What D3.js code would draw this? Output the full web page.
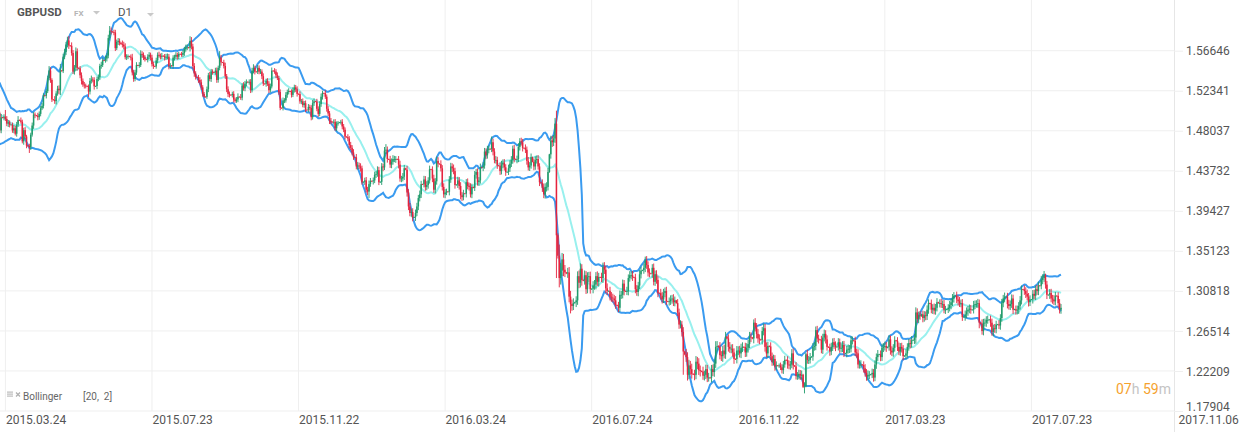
<!DOCTYPE html>
<html><head><meta charset="utf-8">
<script src="https://cdn.jsdelivr.net/npm/d3@7"></script>
<style>
html,body{margin:0;padding:0;background:#fff;}
svg{display:block;font-family:Roboto,"Noto Sans",Arial,sans-serif;}
</style></head><body>
<svg id="chart" width="1243" height="432"></svg>
<script>
// ---------------- DATA ----------------
const symbol = "GBPUSD", market = "FX", period = "D1";
const countdown = ["07", "h", " 59", "m"];
const indicatorName = "Bollinger", indicatorParams = "[20,  2]";
const firstDate = "2015-02-22";               // first candle (a Sunday session)
const skipDates = ["2015.12.25", "2016.01.01"]; // no session
const firstOpen = 5140;                        // pips above 1.0000
// daily closes, pips above 1.0000, one row per week (Sun..Fri)
const closes = [
5150,5180,5210,5240,5200,5190, 5188,5160,5120,5100,5080,4960, 4962,4980,4960,4870,4890,4720,
4725,4760,4820,4990,4808,4948, 4945,4955,4930,4880,4895,4868, 4870,4808,4830,4772,4870,4920,
4915,4900,4690,4810,4742,4645, 4640,4628,4762,4860,4978,4970, 4965,4950,4985,5045,5072,5185,
5180,5230,5370,5452,5350,5140, 5135,5122,5205,5255,5240,5452, 5445,5600,5650,5730,5775,5720,
5718,5640,5440,5482,5658,5480, 5475,5400,5340,5300,5290,5285, 5282,5225,5340,5355,5350,5282,
5285,5360,5380,5500,5510,5562, 5560,5580,5612,5800,5880,5870, 5865,5860,5692,5760,5770,5750,
5735,5730,5710,5595,5600,5605, 5600,5590,5430,5360,5430,5510, 5505,5510,5630,5620,5595,5572,
5570,5600,5620,5590,5520,5500, 5495,5560,5620,5610,5600,5610, 5605,5590,5600,5600,5500,5505,
5500,5590,5600,5620,5600,5630, 5628,5620,5640,5680,5700,5700, 5695,5770,5710,5500,5420,5380,
5378,5350,5325,5270,5200,5170, 5168,5250,5400,5360,5440,5435, 5430,5450,5350,5480,5590,5540,
5538,5500,5390,5250,5200,5190, 5188,5200,5140,5125,5140,5170, 5168,5160,5290,5260,5310,5330,
5328,5330,5240,5450,5480,5440, 5438,5480,5440,5440,5390,5310, 5308,5340,5310,5240,5280,5450,
5448,5440,5400,5370,5220,5050, 5048,5130,5130,5190,5220,5230, 5225,5190,5240,5270,5250,5200,
5198,5120,5120,5080,5100,5030, 5028,5060,5050,4950,5100,5120, 5118,5040,4985,5090,5170,5210,
5208,5170,5040,4990,4910,4900, 4898,4900,4830,4880,4890, 4895,4900,4850,4815,4740,
4735,4720,4650,4620,4570,4520, 4518,4420,4430,4420,4400,4250, 4255,4270,4170,4150,4230,4265,
4262,4270,4330,4340,4380,4250, 4255,4420,4410,4590,4600,4500, 4495,4440,4470,4500,4500,4500,
4498,4440,4290,4290,4310,4400, 4385,4140,3990,3920,3930,3870, 3875,3920,3990,4080,4120,4230,
4228,4280,4200,4220,4270,4390, 4385,4290,4170,4260,4480,4450, 4445,4400,4200,4120,4140,4150,
4148,4280,4420,4400,4370,4220, 4225,4270,4210,4110,4090,4130, 4128,4250,4210,4200,4120,4200,
4190,4330,4360,4250,4270,4410, 4408,4430,4580,4540,4600,4610, 4608,4680,4580,4490,4490,4430,
4428,4370,4440,4460,4410,4360, 4362,4400,4450,4490,4610,4500, 4495,4500,4630,4690,4680,4620,
4618,4600,4480,4410,4430,4520, 4470,4420,4490,4500,4420,4250, 4240,4190,4120,4200,4200,4360,
4550,4700,4680,4720,4880,3680, 3460,3220,3300,3420,3310,3280, 3270,3280,3020,2940,2920,2950,
2960,2980,3240,3170,3320,3200, 3195,3250,3100,3230,3240,3100, 3105,3140,3150,3240,3180,3230,
3228,3220,3340,3310,3110,3080, 3082,3020,3010,3000,2980,2930, 2925,2900,3040,3040,3160,3080,
3078,3080,3220,3250,3250,3230, 3225,3100,3070,3140,3260,3300, 3305,3330,3410,3360,3280,3270,
3268,3330,3180,3260,3200,3060, 3058,3030,2990,3060,3080,2970, 2968,2970,2990,3000,2960,2980,
2950,2850,2720,2720,2640,2430, 2400,2370,2180,2280,2240,2190, 2185,2180,2320,2300,2230,2220,
2215,2170,2180,2240,2150,2150, 2148,2240,2210,2300,2480,2490, 2480,2390,2380,2440,2400,2590,
2570,2480,2460,2460,2420,2350, 2348,2440,2440,2410,2470,2480, 2478,2420,2470,2510,2590,2580,
2570,2740,2690,2620,2570,2560, 2555,2650,2680,2480,2410,2490, 2485,2380,2320,2350,2270,2280,
2278,2280,2260,2230,2290,2340, 2338,2290,2280,2290,2410,2280, 2270,2170,2170,2190,2170,2180,
2050,2060,2400,2340,2340,2370, 2375,2480,2490,2660,2570,2560, 2555,2450,2580,2620,2560,2480,
2475,2430,2480,2530,2500,2480, 2482,2530,2460,2470,2500,2410, 2412,2450,2460,2460,2550,2550,
2545,2420,2410,2290,2290,2290, 2285,2250,2200,2160,2180,2180, 2185,2200,2150,2290,2370,2400,
2400,2370,2470,2480,2490,2470, 2480,2560,2440,2420,2470,2550, 2545,2480,2430,2480,2460,2380,
2385,2410,2480,2520,2510,2550, 2555,2580,2850,2780,2820,2810, 2830,2790,2820,2810,2880,2950,
2945,2880,2900,2870,2900,2960, 2950,2950,2940,2940,2880,2880, 2885,2900,2930,2960,3000,3030,
3030,2990,2970,2950,2950,2800, 2805,2830,2860,2880,2890,2880, 2880,2930,2940,2940,2950,2740,
2730,2650,2740,2740,2770,2770, 2775,2740,2640,2680,2670,2720, 2722,2710,2790,2950,3000,3020,
3020,2940,2920,2940,3000,2880, 2885,2870,2880,2920,2980,3100, 3098,3080,3050,3020,2960,2990,
2990,3050,3030,3100,3080,3140, 3138,3200,3220,3250,3150,3040, 3040,3060,3000,2990,2970,3030,
3028,2950,2880,2900
];
// high above max(open,close), pips
const wickHi = [
6,31,24,37,42,19, 5,27,33,21,26,18, 4,36,29,22,47,23,
7,33,24,120,19,36, 4,26,72,31,24,19, 5,22,36,27,29,41,
4,31,23,26,33,18, 6,24,21,32,26,22, 4,32,27,24,31,22,
5,21,26,47,32,18, 4,41,24,32,36,71, 6,32,34,29,40,46,
5,36,31,28,42,31, 4,24,31,26,28,21, 5,19,31,42,24,29,
4,26,29,24,36,27, 5,29,26,36,50,34, 4,26,29,24,31,26,
6,39,31,34,26,19, 5,24,41,26,29,31, 4,31,39,29,26,21,
5,26,29,24,31,26, 4,29,26,34,24,31, 5,24,31,34,29,26,
5,26,21,29,24,21, 4,24,31,26,29,34, 5,50,41,29,31,24,
4,26,29,31,24,21, 4,29,26,36,29,24, 5,31,34,24,70,29,
4,29,36,24,31,26, 5,24,29,21,26,36, 4,31,24,36,29,26,
5,26,29,31,39,24, 4,31,26,29,24,31, 5,24,29,26,31,34,
4,29,26,31,24,29, 5,31,24,29,26,31, 4,24,31,29,26,31,
5,29,26,31,24,29, 4,31,24,29,36,31, 5,29,26,31,34,24,
4,31,24,29,26,31, 5,26,29,24,19, 4,21,29,26,24,
5,31,26,34,29,36, 4,36,39,31,34,29, 5,29,36,31,39,31,
4,31,34,29,41,36, 5,36,31,39,60,34, 4,39,36,41,34,31,
5,34,41,29,39,36, 6,41,36,39,34,41, 5,36,39,34,41,36,
4,39,36,41,34,39, 5,36,41,34,46,39, 4,41,34,39,36,31,
5,36,39,34,41,36, 4,39,36,41,34,39, 5,34,41,36,39,34,
4,41,34,39,36,41, 5,36,39,34,41,36, 4,62,39,36,41,34,
5,34,41,36,39,34, 4,39,36,41,34,41, 5,36,41,34,39,36,
4,39,34,41,36,39, 5,34,39,36,41,34, 4,41,46,39,50,44,
6,50,46,39,60,140, 20,120,80,70,60,50, 6,50,58,62,48,52,
5,44,52,61,58,49, 5,51,44,52,46,49, 5,46,49,44,52,46,
5,49,46,51,44,52, 5,44,49,42,39,46, 5,39,46,41,44,39,
5,46,39,44,41,46, 5,41,44,39,46,41, 5,44,41,46,39,44,
5,39,46,41,44,39, 5,46,41,44,39,46, 5,41,44,39,46,41,
5,44,41,46,39,52, 8,58,52,61,49,59, 6,49,61,52,58,49,
6,52,44,49,46,51, 6,46,49,44,61,52, 6,51,44,49,62,51,
6,44,51,46,49,44, 6,49,46,51,44,49, 6,46,49,44,51,46,
6,35,49,46,51,44, 6,44,51,46,49,44, 6,44,39,46,41,44,
4,21,31,34,39,44, 5,41,44,39,46,51, 5,46,39,44,41,46,
10,39,15,46,41,44, 5,41,44,39,46,41, 5,44,41,46,39,44,
5,39,44,41,46,39, 5,44,39,46,41,44, 5,41,46,39,44,41,
5,44,41,44,39,46, 5,39,44,41,46,39, 5,46,41,44,39,46,
5,41,44,39,46,41, 5,44,41,46,39,44, 5,39,46,41,44,39,
5,46,39,44,41,46, 5,41,55,44,39,46, 8,39,44,41,46,41,
5,44,39,46,41,44, 5,41,46,39,44,41, 5,39,44,41,48,39,
5,44,41,46,39,44, 5,41,44,39,46,41, 5,44,39,41,46,39,
6,46,41,44,39,46, 5,41,44,39,46,41, 5,44,41,46,39,44,
5,41,46,39,44,41, 5,39,44,41,46,39, 5,44,41,46,39,44,
5,41,44,39,46,41, 5,44,41,46,17,39, 5,41,44,39,46,41,
5,39,44,41
];
// low below min(open,close), pips
const wickLo = [
7,22,28,26,33,24, 6,31,24,36,22,34, 9,28,41,31,24,21,
5,42,18,29,27,31, 6,29,21,27,36,28, 4,26,31,19,32,24,
5,19,22,37,24,29, 5,63,29,21,36,31, 6,34,29,26,19,28,
6,29,21,24,31,27, 5,29,36,24,44,52, 5,21,26,31,29,36,
6,29,26,32,34,29, 5,31,39,24,32,26, 4,57,31,28,26,36,
5,34,24,31,29,21, 6,24,31,29,26,31, 5,29,31,21,34,29,
5,31,29,24,31,26, 6,29,31,30,24,26, 5,24,21,34,31,24,
4,31,24,29,26,31, 5,24,31,21,29,24, 4,31,24,29,36,31,
4,29,31,24,31,26, 5,21,24,31,26,29, 4,39,31,29,36,26,
5,31,24,26,29,10, 5,21,31,24,31,29, 4,24,31,29,26,36,
5,26,29,31,34,29, 4,26,31,20,21,29, 5,24,29,26,31,29,
4,29,31,24,29,31, 5,24,29,26,31,24, 4,31,24,29,26,21,
5,24,31,21,29,25, 4,26,29,24,31,26, 5,29,24,26,31,29,
4,26,31,24,29,26, 5,24,29,34,26,29, 4,26,31,24,29,31,
5,24,31,29,34,26, 4,29,26,31,21, 5,24,31,26,29,
4,29,36,24,31,29, 5,31,34,29,36,26, 4,34,31,39,70,29,
5,36,29,34,31,31, 4,34,41,29,36,39, 5,36,39,31,34,41,
4,41,34,39,31,36, 5,44,39,36,41,40, 4,41,34,39,36,39,
5,34,41,36,39,34, 4,39,34,41,36,39, 5,34,39,36,41,29,
4,39,36,41,34,39, 5,36,39,44,41,34, 4,41,36,39,34,41,
5,34,41,36,39,34, 4,39,34,41,36,39, 5,34,41,36,39,36,
4,41,36,39,34,41, 5,34,39,36,41,36, 4,41,34,39,36,39,
5,36,41,34,39,34, 6,41,36,39,34,41, 5,44,41,46,50,39,
8,46,50,41,46,460, 30,100,70,60,70,50, 8,48,61,100,52,44,
6,52,48,59,51,62, 6,46,51,44,52,47, 6,49,46,52,44,51,
6,44,52,46,51,44, 6,41,44,39,46,41, 6,46,41,44,39,46,
6,41,46,39,44,41, 6,44,41,46,39,44, 6,39,46,41,44,41,
6,46,39,44,41,46, 6,41,44,39,46,39, 6,44,39,46,41,44,
6,39,46,41,49,250, 10,51,62,48,59,51, 8,59,48,61,52,58,
8,44,51,46,49,44, 8,49,44,52,46,49, 8,44,52,61,44,49,
8,51,44,49,46,52, 8,46,49,44,51,46, 8,49,46,51,44,49,
8,52,44,49,46,51, 8,49,46,51,44,49, 8,41,44,39,46,41,
5,24,29,36,41,34, 6,44,41,46,39,44, 6,41,44,39,46,41,
12,70,15,41,44,39, 6,44,41,46,39,44, 6,39,46,41,44,41,
6,46,39,44,41,46, 6,41,44,39,46,39, 6,44,41,46,39,44,
6,39,46,41,44,41, 6,46,39,44,41,46, 6,41,44,39,46,41,
6,44,41,46,39,44, 6,41,44,39,46,41, 6,44,39,46,41,44,
6,39,44,41,46,39, 6,44,65,41,46,39, 6,46,39,44,41,44,
6,39,46,41,44,39, 6,46,41,44,39,46, 6,41,39,46,41,44,
6,39,46,41,44,41, 6,44,41,46,39,44, 6,41,44,39,41,60,
8,39,46,41,44,41, 6,44,41,46,39,44, 6,39,46,41,44,41,
6,46,39,44,41,46, 6,44,41,46,39,44, 6,41,44,39,46,41,
6,44,39,46,41,44, 6,39,46,41,44,46, 6,44,41,46,39,44,
6,46,41,44
];
const yTickLabels = ["1.56646","1.52341","1.48037","1.43732","1.39427","1.35123","1.30818","1.26514","1.22209","1.17904"];
const xTickLabels = ["2015.03.24","2015.07.23","2015.11.22","2016.03.24","2016.07.24","2016.11.22","2017.03.23","2017.07.23","2017.11.06"];
const bbPeriod = 20, bbMult = 2;

// ---------------- LAYOUT ----------------
const W = 1243, H = 432;
const plotRight = 1174, plotBottom = 411, plotTop = 50.7;
const colUp = "#1f9b6b", colDn = "#e5233d", colBand = "#3a9bf0", colMid = "#98f0ee";
const gridCol = "#efefef", textCol = "#555";

const svg = d3.select("#chart");
const toPrice = v => 1 + v / 10000;
const fmtDate = d3.utcFormat("%Y.%m.%d");

const n = Math.min(closes.length, wickHi.length, wickLo.length);
// trading sessions: every day except Saturday and listed holidays
const dates = [];
for (let d = new Date(firstDate + "T00:00:00Z"); dates.length < n + 200; d = new Date(+d + 864e5)) {
  const s = fmtDate(d);
  if (d.getUTCDay() !== 6 && !skipDates.includes(s)) dates.push(s);
}
const candles = d3.range(n).map(i => {
  const o = i ? closes[i - 1] : firstOpen, c = closes[i];
  return { i, o: toPrice(o), c: toPrice(c),
    h: toPrice(Math.max(o, c) + wickHi[i]), l: toPrice(Math.min(o, c) - wickLo[i]) };
});

const i0 = dates.indexOf(xTickLabels[0]), i7 = dates.indexOf(xTickLabels[7]);
const x = d3.scaleLinear().domain([i0, i7]).range([5.4, 1031.4]);
const yVals = yTickLabels.map(Number);
const y = d3.scaleLinear().domain([yVals[yVals.length - 1], yVals[0]]).range([plotBottom, plotTop]);

// grid
const grid = svg.append("g");
grid.selectAll("line.h").data(yVals).join("line")
  .attr("x1", 0).attr("x2", plotRight).attr("y1", d => y(d)).attr("y2", d => y(d))
  .attr("stroke", gridCol).attr("stroke-width", 1);
const xTickPos = xTickLabels.map((s, k) => k < xTickLabels.length - 1 ? x(dates.indexOf(s)) : plotRight + 4);
grid.selectAll("line.v").data(xTickPos.slice(0, -1)).join("line")
  .attr("x1", d => d).attr("x2", d => d).attr("y1", 0).attr("y2", plotBottom)
  .attr("stroke", gridCol).attr("stroke-width", 1);
svg.append("line").attr("x1", plotRight + 0.5).attr("x2", plotRight + 0.5).attr("y1", 0).attr("y2", H)
  .attr("stroke", "#e6e6e6");

// y axis (right)
const yAxis = d3.axisRight(y).tickValues(yVals).tickFormat((d, k) => yTickLabels[k]).tickSize(9).tickPadding(3);
const gy = svg.append("g").attr("transform", `translate(${plotRight},0)`).call(yAxis);
gy.select(".domain").remove();
gy.selectAll(".tick line").attr("stroke", gridCol);
gy.selectAll(".tick text").attr("fill", textCol).attr("font-size", 12).attr("font-family", "Roboto")
  .attr("dy", (d, k) => k === yVals.length - 1 ? "-0.05em" : "0.34em");

// x axis (bottom)
const gx = svg.append("g").attr("transform", `translate(0,${plotBottom})`);
gx.selectAll("text").data(xTickLabels).join("text")
  .attr("x", (d, k) => xTickPos[k] + 0.5).attr("y", 13.3)
  .attr("fill", textCol).attr("font-size", 12).attr("font-family", "Roboto").text(d => d);

// plot
svg.append("clipPath").attr("id", "pc").append("rect")
  .attr("x", 0).attr("y", 0).attr("width", plotRight).attr("height", H);
const plot = svg.append("g").attr("clip-path", "url(#pc)");

// bollinger
const bb = [];
for (let i = bbPeriod - 1; i < n; i++) {
  const w = candles.slice(i - bbPeriod + 1, i + 1).map(d => d.c);
  const m = d3.mean(w), sd = Math.sqrt(d3.mean(w, v => (v - m) * (v - m)));
  bb.push({ i, m, u: m + bbMult * sd, l: m - bbMult * sd });
}
const line = key => d3.line().x(d => x(d.i)).y(d => y(d[key])).curve(d3.curveLinear)(bb);
plot.append("path").attr("d", line("m")).attr("fill", "none").attr("stroke", colMid).attr("stroke-width", 2);
plot.append("path").attr("d", line("u")).attr("fill", "none").attr("stroke", colBand).attr("stroke-width", 2);
plot.append("path").attr("d", line("l")).attr("fill", "none").attr("stroke", colBand).attr("stroke-width", 2);

// candles
const cg = plot.append("g");
cg.selectAll("line").data(candles).join("line")
  .attr("x1", d => x(d.i)).attr("x2", d => x(d.i)).attr("y1", d => y(d.h)).attr("y2", d => y(d.l))
  .attr("stroke", d => d.c >= d.o ? colUp : colDn).attr("stroke-width", 0.9);
cg.selectAll("rect").data(candles).join("rect")
  .attr("x", d => x(d.i) - 0.75).attr("width", 1.5)
  .attr("y", d => y(Math.max(d.o, d.c))).attr("height", d => Math.max(0.8, Math.abs(y(d.o) - y(d.c))))
  .attr("fill", d => d.c >= d.o ? colUp : colDn);

// header
const hdr = svg.append("g").attr("font-family", "Roboto");
hdr.append("text").attr("x", 17).attr("y", 16).attr("font-size", 11.5).attr("font-weight", 700).attr("fill", "#555").text(symbol);
hdr.append("text").attr("x", 74).attr("y", 15.5).attr("font-size", 8).attr("font-weight", 700).attr("fill", "#b5b5b5").text(market);
hdr.append("text").attr("x", 118).attr("y", 16).attr("font-size", 11.5).attr("fill", "#555").text(period);
[[93, 11], [147, 13]].forEach(([tx, ty]) =>
  hdr.append("path").attr("d", `M${tx},${ty}h7l-3.5,3.5z`).attr("fill", "#c8c8c8"));

// indicator legend
const lg = svg.append("g").attr("font-family", "Roboto");
[0, 2, 4].forEach(k => lg.append("rect").attr("x", 7).attr("y", 391.5 + k).attr("width", 6).attr("height", 1.2).attr("fill", "#bdbdbd"));
lg.append("path").attr("d", "M16,392.5l4,4M20,392.5l-4,4").attr("stroke", "#b0b0b0").attr("stroke-width", 1.3);
lg.append("text").attr("x", 23).attr("y", 400).attr("font-size", 10).attr("fill", "#666").text(indicatorName);
lg.append("text").attr("x", 83).attr("y", 400).attr("font-size", 10).attr("fill", "#666").attr("xml:space", "preserve").text(indicatorParams);

// countdown
const cd = svg.append("text").attr("x", 1116).attr("y", 394).attr("font-size", 14).attr("font-family", "Roboto");
countdown.forEach((t, k) => cd.append("tspan").attr("fill", k % 2 ? "#c4c4c4" : "#f5a22e").attr("xml:space", "preserve").text(t));
</script>
</body></html>
